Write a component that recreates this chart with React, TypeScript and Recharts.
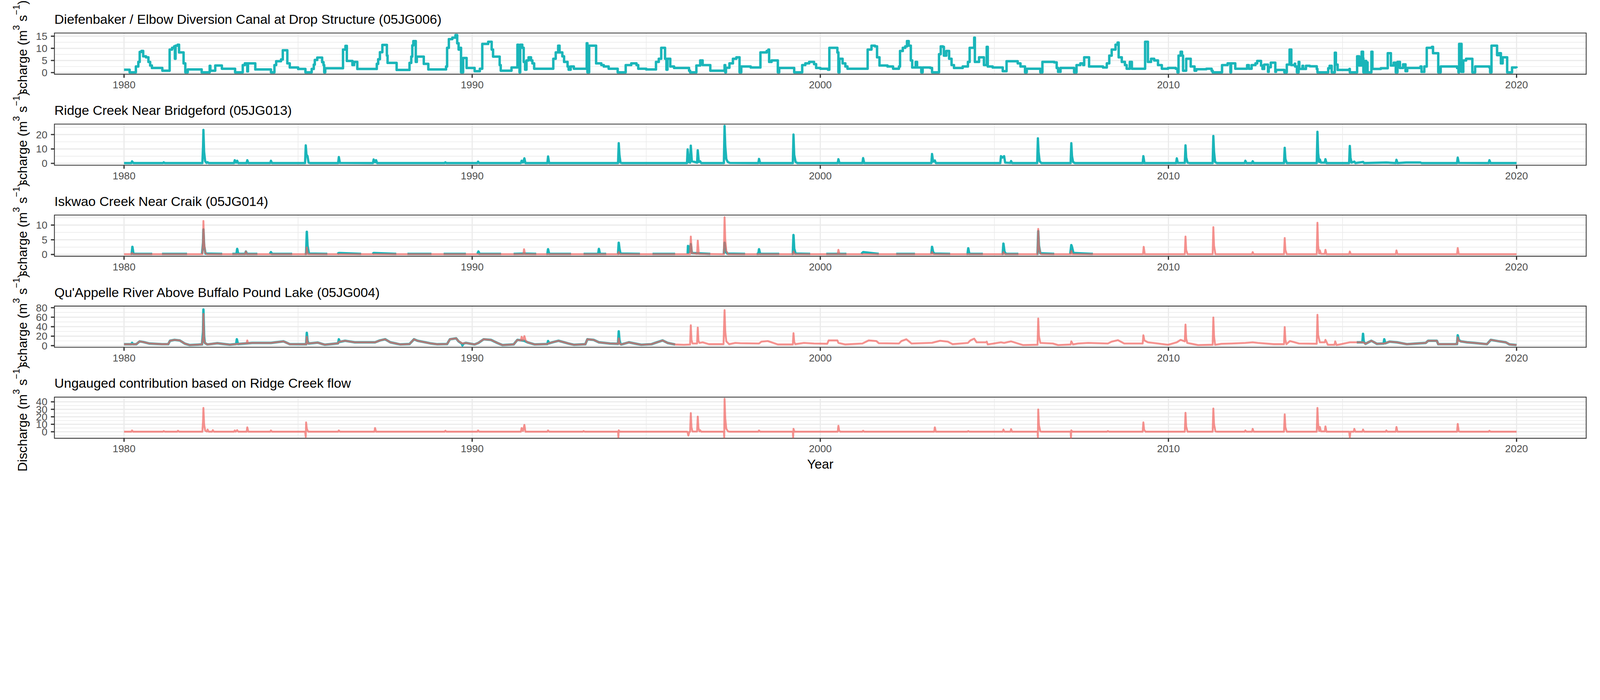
import React from "react";
import { LineChart, Line, XAxis, YAxis, CartesianGrid, ReferenceArea } from "recharts";

type Pt = [number, number | null];

// ---------- axis / label data ----------
const YEAR_TICKS = [1980, 1990, 2000, 2010, 2020];
const YEAR_MINOR = [1985, 1995, 2005, 2015];
const X_DOMAIN: [number, number] = [1978, 2022];

const TITLES = [
  "Diefenbaker / Elbow Diversion Canal at Drop Structure (05JG006)",
  "Ridge Creek Near Bridgeford (05JG013)",
  "Iskwao Creek Near Craik (05JG014)",
  "Qu'Appelle River Above Buffalo Pound Lake (05JG004)",
  "Ungauged contribution based on Ridge Creek flow",
];

const Y_TICKS = [
  [0, 5, 10, 15],
  [0, 10, 20],
  [0, 5, 10],
  [0, 20, 40, 60, 80],
  [0, 10, 20, 30, 40],
];
const Y_MINOR = [
  [2.5, 7.5, 12.5],
  [5, 15, 25],
  [2.5, 7.5, 12.5],
  [10, 30, 50, 70],
  [-5, 5, 15, 25, 35, 45],
];
const Y_DOMAINS: [number, number][] = [
  [-0.67, 16.3],
  [-1.3, 27.3],
  [-0.6, 13.4],
  [-3.4, 83.4],
  [-8.7, 46.3],
];

// ---------- series data (year, discharge) ----------
const DIEFENBAKER: Pt[] = [
  [1980.0, 1.2], [1980.16, 0.1], [1980.34, 2.5], [1980.41, 4.4], [1980.45, 8.5], [1980.5, 8.9], [1980.55, 6.7],
  [1980.63, 6.3], [1980.7, 4.4], [1980.75, 2.9], [1980.8, 1.9], [1981.1, 0.8], [1981.31, 9.5], [1981.38, 10.2],
  [1981.44, 10.8], [1981.46, 5.7], [1981.48, 11.1], [1981.54, 11.5], [1981.58, 8.3], [1981.71, 3.8], [1981.76, 0.1],
  [1981.83, 1.3], [1982.23, 0.1], [1982.46, 2.8], [1982.48, 0.8], [1982.62, 2.9], [1982.81, 1.6], [1983.19, 0.1],
  [1983.41, 3.1], [1983.47, 3.8], [1983.54, 0.5], [1983.56, 3.8], [1983.77, 1.3], [1984.22, 0.1], [1984.32, 3.1],
  [1984.37, 4.7], [1984.51, 5.4], [1984.56, 9.2], [1984.69, 3.8], [1984.76, 2.1], [1985.0, 1.5], [1985.21, 0.1],
  [1985.39, 1.5], [1985.45, 3.3], [1985.48, 5.2], [1985.55, 6.2], [1985.69, 4.3], [1985.73, 3.1], [1985.75, 0.1],
  [1985.78, 1.8], [1986.29, 9.5], [1986.36, 11.0], [1986.4, 4.8], [1986.56, 3.1], [1986.61, 4.4], [1986.7, 1.5],
  [1987.26, 3.6], [1987.3, 5.5], [1987.35, 8.4], [1987.42, 11.4], [1987.55, 7.0], [1987.57, 4.0], [1987.83, 1.1],
  [1988.2, 4.0], [1988.25, 6.6], [1988.28, 11.2], [1988.31, 13.0], [1988.38, 4.4], [1988.41, 6.6], [1988.61, 3.6],
  [1988.74, 1.3], [1989.25, 2.5], [1989.28, 10.2], [1989.33, 13.8],
  [1989.43, 14.4], [1989.52, 15.5], [1989.57, 12.1], [1989.61, 9.5], [1989.66, 10.2], [1989.68, 0.1], [1989.74, 6.0],
  [1989.84, 1.9], [1990.07, 0.6], [1990.22, 1.6], [1990.29, 11.8], [1990.46, 12.7], [1990.56, 9.5], [1990.6, 6.6],
  [1990.79, 3.1], [1990.82, 0.8], [1991.13, 2.1], [1991.3, 11.5], [1991.33, 6.3], [1991.36, 0.1], [1991.38, 11.5],
  [1991.44, 10.2], [1991.48, 4.4], [1991.52, 1.2], [1991.56, 5.0], [1991.62, 6.3], [1991.69, 5.0], [1991.73, 3.8],
  [1991.78, 1.6], [1992.33, 5.7], [1992.4, 8.3], [1992.47, 11.1], [1992.51, 8.3], [1992.59, 6.7], [1992.64, 4.4],
  [1992.74, 2.5], [1992.77, 1.2], [1992.83, 2.5], [1992.92, 1.6], [1993.29, 12.1], [1993.31, 0.1], [1993.36, 11.1],
  [1993.56, 3.8], [1993.71, 3.1], [1993.78, 2.5], [1993.92, 1.6], [1994.18, 0.1], [1994.41, 3.1], [1994.57, 3.8],
  [1994.72, 3.1], [1994.77, 1.6], [1995.0, 1.3], [1995.28, 4.4], [1995.36, 5.7], [1995.43, 10.2], [1995.54, 5.7],
  [1995.58, 1.2], [1995.61, 5.7], [1995.69, 2.5], [1995.8, 1.9], [1996.23, 0.8], [1996.26, 0.1], [1996.44, 2.9],
  [1996.55, 5.0], [1996.62, 3.1], [1996.84, 0.8], [1997.25, 3.1], [1997.27, 0.1], [1997.29, 2.0], [1997.39, 3.8],
  [1997.49, 5.7], [1997.59, 6.3], [1997.68, 0.1], [1997.73, 2.5], [1998.0, 2.1], [1998.28, 8.3], [1998.46, 8.9],
  [1998.51, 9.5], [1998.53, 4.4], [1998.6, 5.0], [1998.78, 0.1], [1998.82, 1.9], [1999.25, 0.1], [1999.48, 3.1],
  [1999.57, 3.8], [1999.68, 4.4], [1999.82, 3.5], [1999.88, 1.9], [2000.0, 1.6], [2000.22, 1.2], [2000.26, 10.2],
  [2000.49, 8.3], [2000.52, 0.1], [2000.55, 5.7], [2000.64, 3.8], [2000.72, 2.5], [2000.78, 1.6], [2001.36, 9.5],
  [2001.47, 11.1], [2001.57, 10.8], [2001.63, 6.3], [2001.7, 2.9], [2001.93, 2.5], [2002.09, 1.6], [2002.26, 2.5],
  [2002.29, 8.9], [2002.37, 10.2], [2002.44, 10.8], [2002.49, 13.0], [2002.54, 11.1], [2002.6, 5.0], [2002.64, 2.1],
  [2002.74, 4.4], [2002.78, 2.1], [2002.9, 0.1], [2002.94, 2.1], [2003.16, 1.9], [2003.21, 0.1], [2003.41, 7.6],
  [2003.46, 10.8], [2003.52, 10.6], [2003.55, 7.0], [2003.62, 8.9], [2003.7, 5.7], [2003.77, 3.1], [2003.84, 1.9],
  [2004.09, 2.5], [2004.24, 4.4], [2004.29, 10.2], [2004.42, 14.4], [2004.44, 4.4], [2004.56, 6.3], [2004.7, 3.1],
  [2004.78, 10.6], [2004.81, 2.5], [2004.95, 2.1], [2005.24, 0.6], [2005.35, 4.7], [2005.67, 3.8], [2005.75, 2.5],
  [2005.88, 0.1], [2005.93, 1.6], [2006.32, 0.1], [2006.38, 4.4], [2006.72, 4.2], [2006.79, 1.9], [2006.83, 0.3],
  [2006.9, 1.9], [2007.29, 0.1], [2007.36, 3.1], [2007.47, 3.8], [2007.55, 3.1], [2007.58, 6.3], [2007.72, 2.5],
  [2008.12, 2.1], [2008.23, 3.8], [2008.3, 7.0], [2008.37, 9.5], [2008.48, 11.5], [2008.54, 12.4], [2008.57, 6.3],
  [2008.66, 4.4], [2008.75, 3.1], [2008.8, 1.6], [2008.89, 4.4], [2008.95, 1.6], [2009.33, 12.7], [2009.41, 4.4],
  [2009.5, 5.7], [2009.59, 5.0], [2009.7, 3.1], [2009.81, 1.6], [2009.99, 1.9], [2010.21, 1.6], [2010.26, 0.1],
  [2010.29, 7.0], [2010.35, 8.6], [2010.39, 7.0], [2010.42, 0.8], [2010.51, 5.7], [2010.64, 2.5], [2010.75, 0.8],
  [2010.8, 1.4], [2011.09, 1.6], [2011.24, 0.8], [2011.27, 0.1], [2011.54, 3.1], [2011.7, 3.8], [2011.78, 0.1],
  [2011.8, 3.8], [2011.92, 1.6], [2012.26, 3.1], [2012.31, 1.6], [2012.39, 3.1], [2012.5, 3.8], [2012.55, 4.8],
  [2012.66, 2.9], [2012.7, 1.5], [2012.75, 3.3], [2012.86, 0.3], [2012.88, 2.2], [2012.94, 4.1], [2013.07, 0.3],
  [2013.09, 1.1], [2013.33, 0.1], [2013.4, 3.3], [2013.48, 9.5], [2013.53, 3.1], [2013.63, 3.7], [2013.64, 2.5],
  [2013.69, 0.1], [2013.74, 4.4], [2013.76, 1.5], [2013.85, 2.8], [2013.87, 1.5], [2013.95, 2.8], [2014.06, 2.6],
  [2014.26, 1.5], [2014.28, 0.1], [2014.59, 1.8], [2014.63, 2.8], [2014.69, 0.1], [2014.78, 8.2], [2014.81, 3.3],
  [2014.86, 1.1], [2015.2, 1.5], [2015.21, 0.1], [2015.42, 6.7], [2015.48, 2.9], [2015.55, 8.6], [2015.59, 5.9],
  [2015.6, 0.1], [2015.65, 4.8], [2015.68, 0.1], [2015.7, 4.2], [2015.72, 0.1], [2015.83, 8.6], [2015.86, 1.5],
  [2016.1, 1.8], [2016.3, 8.0], [2016.39, 2.9], [2016.47, 4.1], [2016.53, 0.1], [2016.58, 4.4],
  [2016.65, 1.9], [2016.74, 3.4], [2016.81, 0.6], [2016.86, 1.9], [2017.24, 2.5],
  [2017.27, 0.3], [2017.35, 2.5], [2017.42, 10.2], [2017.57, 10.6], [2017.6, 8.0], [2017.75, 0.1], [2017.82, 2.5],
  [2018.29, 1.9], [2018.33, 0.1], [2018.35, 11.8], [2018.42, 0.3], [2018.47, 5.0], [2018.55, 5.7], [2018.73, 0.1],
  [2018.81, 2.5], [2019.22, 2.1], [2019.24, 0.1], [2019.28, 11.1], [2019.44, 7.2], [2019.5, 8.0], [2019.55, 3.8],
  [2019.6, 6.3], [2019.73, 0.1], [2019.87, 2.1], [2020.0, 1.9],
];

const RIDGE: Pt[] = [
  [1980.0, 0.2], [1980.21, 0.2], [1980.23, 1.4], [1980.27, 0.2], [1981.12, 0.2], [1981.14, 0.7], [1981.17, 0.2],
  [1982.25, 0.2], [1982.27, 12], [1982.28, 23.2], [1982.3, 8], [1982.33, 1.5], [1982.37, 0.3], [1982.4, 0.8], [1982.43, 0.2],
  [1983.16, 0.2], [1983.18, 2.2], [1983.22, 0.5], [1983.25, 1.8], [1983.28, 0.2], [1983.52, 0.2], [1983.54, 2.2], [1983.57, 0.2],
  [1984.2, 0.2], [1984.22, 1.8], [1984.25, 0.2], [1985.2, 0.2], [1985.22, 12.5], [1985.24, 6], [1985.27, 5], [1985.3, 0.5],
  [1985.34, 0.2], [1986.15, 0.2], [1986.17, 4.4], [1986.2, 0.3], [1987.15, 0.2], [1987.17, 2.7], [1987.21, 0.8], [1987.24, 2.2],
  [1987.27, 0.2], [1989.21, 0.2], [1989.23, 0.7], [1989.26, 0.2], [1990.15, 0.2], [1990.17, 1.2], [1990.2, 0.2],
  [1991.4, 0.2], [1991.42, 1.8], [1991.46, 0.6], [1991.5, 3.5], [1991.53, 0.2], [1992.16, 0.2], [1992.18, 4.8], [1992.21, 0.2],
  [1994.19, 0.2], [1994.21, 14], [1994.23, 6], [1994.26, 0.5], [1994.3, 0.2], [1996.17, 0.2], [1996.19, 9.7], [1996.22, 1.0],
  [1996.26, 0.5], [1996.28, 12.3], [1996.31, 1.5], [1996.46, 0.5], [1996.48, 9.1], [1996.51, 1.0], [1996.55, 1.4], [1996.58, 0.2],
  [1997.23, 0.2], [1997.25, 26.0], [1997.27, 12], [1997.3, 3], [1997.34, 1.0], [1997.4, 0.3], [1998.22, 0.2], [1998.24, 3.1],
  [1998.27, 0.2], [1999.21, 0.2], [1999.23, 20], [1999.25, 6], [1999.29, 1], [1999.34, 0.2], [2000.5, 0.2], [2000.52, 2.9],
  [2000.55, 0.2], [2001.21, 0.2], [2001.23, 3.7], [2001.26, 0.2], [2003.19, 0.2], [2003.21, 6.5], [2003.24, 1.2], [2003.29, 2.0],
  [2003.32, 0.2], [2005.17, 0.2], [2005.19, 5], [2005.23, 4], [2005.28, 5], [2005.31, 0.5], [2005.46, 0.3], [2005.48, 1.6],
  [2005.51, 0.2], [2006.23, 0.2], [2006.25, 17.4], [2006.27, 8], [2006.3, 1.5], [2006.35, 0.2], [2007.19, 0.2], [2007.21, 14],
  [2007.23, 5], [2007.26, 1], [2007.31, 0.2], [2009.26, 0.2], [2009.28, 5], [2009.31, 0.2], [2010.22, 0.2], [2010.24, 3.5],
  [2010.27, 0.3], [2010.47, 0.3], [2010.49, 12.5], [2010.51, 4], [2010.55, 0.5], [2010.6, 0.2], [2011.27, 0.2], [2011.29, 19],
  [2011.31, 8], [2011.34, 1], [2011.39, 0.2], [2012.19, 0.2], [2012.21, 1.8], [2012.24, 0.2], [2012.4, 0.2], [2012.42, 1.5],
  [2012.45, 0.2], [2013.32, 0.2], [2013.34, 10.8], [2013.36, 3], [2013.4, 0.2], [2014.26, 0.2], [2014.28, 21.9], [2014.3, 7],
  [2014.33, 1.0], [2014.35, 2.7], [2014.38, 0.5], [2014.49, 0.5], [2014.51, 2.9], [2014.54, 0.2], [2015.19, 0.2], [2015.21, 12.1],
  [2015.23, 4], [2015.26, 0.5], [2015.34, 1.2], [2015.37, 0.2], [2015.59, 1.0], [2015.62, 0.2], [2016.26, 0.6], [2016.53, 0.2],
  [2016.55, 2.5], [2016.58, 0.2], [2016.83, 0.6], [2017.24, 0.6], [2017.27, 0.2], [2018.29, 0.2], [2018.31, 4], [2018.34, 0.3],
  [2019.2, 0.2], [2019.22, 2.2], [2019.25, 0.2], [2020.0, 0.2],
];

const ISKWAO_OBSERVED: Pt[] = [
  [1980.19, 0.2], [1980.22, 0.2], [1980.24, 2.6], [1980.27, 0.2], [1980.81, 0.2], [1980.82, null],
  [1981.09, 0.2], [1981.81, 0.2], [1981.82, null],
  [1982.24, 0.2], [1982.27, 4], [1982.28, 8.5], [1982.3, 3], [1982.34, 0.3], [1982.82, 0.2], [1982.83, null],
  [1983.11, 0.2], [1983.23, 0.2], [1983.25, 1.9], [1983.28, 0.2], [1983.48, 0.2], [1983.5, 1.0], [1983.53, 0.2], [1983.83, 0.2], [1983.84, null],
  [1984.19, 0.2], [1984.22, 0.8], [1984.25, 0.2], [1984.83, 0.2], [1984.84, null],
  [1985.19, 0.2], [1985.23, 0.2], [1985.25, 7.7], [1985.27, 3], [1985.31, 0.3], [1985.84, 0.2], [1985.85, null],
  [1986.13, 0.2], [1986.17, 0.5], [1986.81, 0.2], [1986.82, null],
  [1987.14, 0.2], [1987.17, 0.5], [1987.82, 0.2], [1987.83, null],
  [1988.14, 0.2], [1988.83, 0.2], [1988.84, null],
  [1989.18, 0.2], [1989.82, 0.2], [1989.83, null],
  [1990.15, 0.2], [1990.18, 1.0], [1990.21, 0.2], [1990.83, 0.2], [1990.84, null],
  [1991.19, 0.2], [1991.49, 0.3], [1991.84, 0.2], [1991.85, null],
  [1992.13, 0.2], [1992.16, 0.2], [1992.18, 1.8], [1992.21, 0.2], [1992.84, 0.2], [1992.85, null],
  [1993.2, 0.2], [1993.62, 0.2], [1993.64, 1.9], [1993.67, 0.2], [1993.85, 0.2], [1993.86, null],
  [1994.18, 0.2], [1994.19, 0.2], [1994.21, 4.0], [1994.23, 2], [1994.26, 0.3], [1994.82, 0.2], [1994.83, null],
  [1995.18, 0.2], [1995.83, 0.2], [1995.84, null],
  [1996.19, 0.2], [1996.2, 2.9], [1996.23, 0.8], [1996.28, 3.5], [1996.31, 0.5], [1996.84, 0.2], [1996.85, null],
  [1997.23, 0.2], [1997.25, 4.0], [1997.28, 1.0], [1997.33, 0.3], [1997.84, 0.2], [1997.85, null],
  [1998.17, 0.2], [1998.22, 0.2], [1998.24, 1.8], [1998.27, 0.2], [1998.82, 0.2], [1998.83, null],
  [1999.18, 0.2], [1999.21, 0.2], [1999.23, 6.6], [1999.25, 2], [1999.29, 0.3], [1999.71, 0.2], [1999.72, null],
  [2000.17, 0.2], [2000.75, 0.2], [2000.76, null],
  [2001.18, 0.2], [2001.23, 0.8], [2001.68, 0.2], [2001.69, null],
  [2002.18, 0.2], [2002.72, 0.2], [2002.73, null],
  [2003.19, 0.2], [2003.21, 2.6], [2003.24, 0.8], [2003.28, 0.3], [2003.73, 0.2], [2003.74, null],
  [2004.2, 0.2], [2004.23, 0.2], [2004.25, 2.1], [2004.28, 0.2], [2004.67, 0.2], [2004.68, null],
  [2005.21, 0.2], [2005.24, 0.2], [2005.26, 3.7], [2005.29, 1.0], [2005.33, 0.2], [2005.69, 0.2], [2005.7, null],
  [2006.21, 0.2], [2006.24, 0.2], [2006.26, 7.9], [2006.28, 3], [2006.32, 0.4], [2006.72, 0.2], [2006.73, null],
  [2007.18, 0.2], [2007.21, 3.2], [2007.23, 2.5], [2007.27, 0.5], [2007.83, 0.2],
];

const ISKWAO_ESTIMATED: Pt[] = [
  [1980.0, 0.1], [1980.21, 0.1], [1980.23, 0.5], [1980.26, 0.1], [1982.25, 0.1], [1982.27, 5], [1982.28, 11.4], [1982.3, 4],
  [1982.33, 0.6], [1982.38, 0.1], [1983.48, 0.1], [1983.5, 1.0], [1983.53, 0.1], [1985.23, 0.1], [1985.25, 2.4], [1985.28, 0.1],
  [1991.47, 0.1], [1991.49, 1.8], [1991.52, 0.1], [1994.19, 0.1], [1994.21, 0.8], [1994.24, 0.1], [1996.26, 0.1], [1996.28, 6.1],
  [1996.31, 0.5], [1996.46, 0.2], [1996.48, 4.7], [1996.51, 0.2], [1997.23, 0.1], [1997.25, 12.7], [1997.27, 5], [1997.3, 1.2],
  [1997.35, 0.1], [1999.21, 0.1], [1999.23, 1.0], [1999.26, 0.1], [2000.5, 0.1], [2000.52, 1.6], [2000.55, 0.1], [2003.19, 0.1],
  [2003.21, 0.8], [2003.24, 0.1], [2005.24, 0.1], [2005.26, 0.8], [2005.29, 0.1], [2006.24, 0.1], [2006.26, 8.7], [2006.28, 3],
  [2006.32, 0.3], [2006.36, 0.1], [2007.19, 0.1], [2007.21, 1.2], [2007.24, 0.1], [2009.27, 0.1], [2009.29, 2.6], [2009.32, 0.1],
  [2010.47, 0.1], [2010.49, 6.1], [2010.51, 1.5], [2010.55, 0.1], [2011.27, 0.1], [2011.29, 9.3], [2011.31, 3], [2011.35, 0.1],
  [2012.4, 0.1], [2012.42, 0.8], [2012.45, 0.1], [2013.32, 0.1], [2013.34, 5.6], [2013.36, 1.5], [2013.4, 0.1], [2014.26, 0.1],
  [2014.28, 10.8], [2014.3, 3], [2014.33, 0.3], [2014.35, 1.4], [2014.38, 0.2], [2014.49, 0.2], [2014.51, 1.6], [2014.54, 0.1],
  [2015.19, 0.1], [2015.21, 1.0], [2015.24, 0.1], [2016.53, 0.1], [2016.55, 1.4], [2016.58, 0.1], [2018.29, 0.1], [2018.31, 2.2],
  [2018.34, 0.1], [2020.0, 0.1],
];

const QUAPPELLE_OBSERVED: Pt[] = [
  [1980.0, 3.0], [1980.21, 3.0], [1980.23, 5.8], [1980.26, 3.0], [1980.35, 3.0], [1980.45, 9.0], [1980.55, 7.7], [1980.73, 4.5],
  [1981.09, 3.2], [1981.27, 3.2], [1981.32, 10.3], [1981.45, 12.2], [1981.6, 11.0], [1981.74, 4.5], [1981.88, 1.3], [1982.24, 2.6],
  [1982.27, 30], [1982.28, 76], [1982.3, 20], [1982.32, 5.8], [1982.39, 2.6], [1982.55, 4.0], [1982.68, 5.2], [1983.04, 2.0],
  [1983.22, 3.5], [1983.24, 13.5], [1983.27, 3.5], [1983.54, 5.0], [1983.68, 5.8], [1984.22, 5.8], [1984.58, 9.0], [1984.76, 3.2],
  [1985.23, 3.0], [1985.25, 27], [1985.27, 10], [1985.3, 4.5], [1985.56, 6.4], [1985.77, 2.0], [1986.15, 5.0], [1986.17, 13.5],
  [1986.2, 8], [1986.35, 10.3], [1986.63, 7.0], [1987.21, 7.0], [1987.35, 11.0], [1987.5, 13.5], [1987.65, 7.0], [1987.94, 2.6],
  [1988.2, 3.5], [1988.33, 13.5], [1988.43, 10.3], [1988.79, 5.0], [1989.0, 3.0], [1989.28, 3.5], [1989.36, 13.5], [1989.54, 15.5],
  [1989.61, 9.0], [1989.7, 4.5], [1989.72, 0.5], [1989.75, 4.5], [1989.82, 5.8], [1990.07, 2.6], [1990.18, 5.8], [1990.33, 13.5],
  [1990.54, 12.2], [1990.72, 5.8], [1990.87, 1.3], [1991.19, 2.6], [1991.3, 12.2], [1991.42, 11], [1991.5, 10], [1991.59, 7.0],
  [1991.8, 2.6], [1992.16, 3.5], [1992.18, 9.7], [1992.21, 5], [1992.34, 7.7], [1992.48, 10.3], [1992.77, 4.5], [1992.92, 1.9],
  [1993.25, 3.0], [1993.31, 13.5], [1993.49, 12.2], [1993.64, 7.0], [1993.96, 4.5], [1994.19, 4.0], [1994.21, 30], [1994.23, 12],
  [1994.26, 4.0], [1994.28, 2.6], [1994.5, 7.0], [1994.86, 1.9], [1995.15, 3.2], [1995.47, 11.0], [1995.61, 5.8], [1995.83, 2.6],
  [1995.84, null],
  [2015.41, 7.0], [2015.57, 7.0], [2015.59, 25], [2015.61, 8], [2015.66, 3.9], [2015.83, 10.3], [2015.99, 3.9], [2016.18, 4.5],
  [2016.2, 13.5], [2016.23, 5], [2016.35, 8.4], [2016.56, 7.0], [2016.85, 3.2], [2017.13, 4.5], [2017.39, 5.8], [2017.46, 10.3],
  [2017.71, 10.3], [2017.75, 3.2], [2018.22, 3.2], [2018.29, 3.5], [2018.31, 21.9], [2018.34, 12], [2018.4, 9.0], [2018.58, 7.0],
  [2018.79, 5.8], [2019.15, 3.2], [2019.26, 12.2], [2019.51, 9.0], [2019.69, 7.0], [2019.8, 2.6], [2020.0, 1.3],
];

const QUAPPELLE_ESTIMATED: Pt[] = [
  [1980.0, 3.0], [1980.35, 3.0], [1980.45, 9.0], [1980.55, 7.7], [1980.73, 4.5], [1981.09, 3.2], [1981.27, 3.2], [1981.32, 10.3],
  [1981.45, 12.2], [1981.6, 11.0], [1981.74, 4.5], [1981.88, 1.3], [1982.24, 2.6], [1982.27, 20], [1982.28, 67], [1982.3, 15],
  [1982.32, 5.8], [1982.39, 2.6], [1982.55, 4.0], [1982.68, 5.2], [1983.04, 2.0], [1983.24, 3.5], [1983.52, 5.0], [1983.54, 11.0],
  [1983.56, 5.0], [1983.68, 5.8], [1984.22, 5.8], [1984.58, 9.0], [1984.76, 3.2], [1985.23, 3.0], [1985.25, 18.7], [1985.28, 4.5],
  [1985.56, 6.4], [1985.77, 2.0], [1986.15, 5.0], [1986.17, 8.0], [1986.35, 10.3], [1986.63, 7.0], [1987.21, 7.0], [1987.35, 11.0],
  [1987.5, 13.5], [1987.65, 7.0], [1987.94, 2.6], [1988.2, 3.5], [1988.33, 13.5], [1988.43, 10.3], [1988.79, 5.0], [1989.0, 3.0],
  [1989.28, 3.5], [1989.36, 13.5], [1989.54, 15.5], [1989.61, 9.0], [1989.72, 4.5], [1989.82, 5.8], [1990.07, 2.6], [1990.18, 5.8],
  [1990.33, 13.5], [1990.54, 12.2], [1990.72, 5.8], [1990.87, 1.3], [1991.19, 2.6], [1991.3, 12.2], [1991.4, 11], [1991.42, 18.7],
  [1991.46, 11], [1991.5, 20], [1991.54, 10], [1991.59, 7.0], [1991.8, 2.6], [1992.16, 3.5], [1992.18, 4.5], [1992.34, 7.7],
  [1992.48, 10.3], [1992.77, 4.5], [1992.92, 1.9], [1993.25, 3.0], [1993.31, 13.5], [1993.49, 12.2], [1993.64, 7.0], [1993.96, 4.5],
  [1994.19, 4.0], [1994.21, 15.5], [1994.24, 4.0], [1994.28, 2.6], [1994.5, 7.0], [1994.86, 1.9], [1995.15, 3.2], [1995.47, 11.0],
  [1995.61, 5.8], [1995.83, 2.6], [1996.08, 1.9], [1996.26, 2.5], [1996.28, 43], [1996.3, 12], [1996.33, 4.5], [1996.46, 4.5],
  [1996.48, 38], [1996.5, 10], [1996.53, 5.8], [1996.62, 7.0], [1996.8, 3.2], [1997.22, 3.2], [1997.25, 75], [1997.27, 30],
  [1997.3, 9.0], [1997.38, 3.2], [1997.56, 5.8], [1997.7, 5.2], [1998.24, 4.5], [1998.31, 8.4], [1998.49, 9.7], [1998.78, 2.6],
  [1999.21, 2.6], [1999.23, 26.4], [1999.25, 8], [1999.28, 3.2], [1999.53, 5.8], [1999.82, 4.5], [2000.2, 4.0], [2000.24, 11.0],
  [2000.49, 11.0], [2000.52, 5.8], [2000.71, 2.6], [2001.21, 4.5], [2001.39, 11.0], [2001.61, 9.7], [2001.68, 5.2], [2002.26, 4.5],
  [2002.33, 9.7], [2002.47, 13.5], [2002.62, 4.5], [2003.21, 6.0], [2003.44, 10.3], [2003.66, 8.4], [2003.8, 3.2], [2004.24, 5.8],
  [2004.31, 11.0], [2004.42, 14.8], [2004.49, 7.0], [2004.76, 7.0], [2004.78, 8.4], [2004.81, 2.6], [2005.19, 7.0], [2005.28, 5.8],
  [2005.48, 9.0], [2005.82, 1.3], [2006.24, 2.0], [2006.26, 57.3], [2006.28, 20], [2006.32, 5.8], [2006.68, 4.5], [2006.83, 1.3],
  [2007.19, 2.5], [2007.21, 9.0], [2007.26, 2.6], [2007.4, 4.5], [2007.69, 5.8], [2008.26, 4.5], [2008.37, 8.4], [2008.55, 11.6],
  [2008.73, 4.5], [2009.26, 4.5], [2009.28, 21.9], [2009.31, 11.0], [2009.41, 7.0], [2009.7, 4.5], [2009.99, 1.9], [2010.24, 7.0],
  [2010.35, 12.2], [2010.47, 9.0], [2010.49, 44.4], [2010.51, 15], [2010.54, 5.8], [2010.85, 1.3], [2011.27, 2.0], [2011.29, 59.2],
  [2011.31, 20], [2011.34, 1.9], [2011.52, 3.9], [2011.81, 4.5], [2012.21, 5.8], [2012.42, 7.0], [2012.57, 5.8], [2013.03, 3.2],
  [2013.32, 3.2], [2013.34, 39], [2013.36, 12], [2013.39, 3.2], [2013.49, 9.7], [2013.75, 4.5], [2014.26, 4.0], [2014.28, 65],
  [2014.3, 22], [2014.35, 7.0], [2014.49, 7.0], [2014.51, 12.2], [2014.58, 1.9], [2014.77, 2.0], [2014.79, 9.0], [2014.83, 1.3],
  [2015.21, 7.0], [2015.59, 7.0], [2015.66, 3.9], [2015.83, 10.3], [2015.99, 3.9], [2016.2, 4.5], [2016.35, 8.4], [2016.56, 7.0],
  [2016.85, 3.2], [2017.13, 4.5], [2017.39, 5.8], [2017.46, 10.3], [2017.71, 10.3], [2017.75, 3.2], [2018.22, 3.2], [2018.29, 3.5],
  [2018.31, 17.4], [2018.34, 10], [2018.4, 9.0], [2018.58, 7.0], [2018.79, 5.8], [2019.15, 3.2], [2019.26, 12.2], [2019.51, 9.0],
  [2019.69, 7.0], [2019.8, 2.6], [2020.0, 1.3],
];

const UNGAUGED: Pt[] = [
  [1980.0, 0.1], [1980.21, 0.1], [1980.23, 1.8], [1980.26, 0.1], [1981.12, 0.1], [1981.14, 1.0], [1981.17, 0.1], [1981.53, 0.1],
  [1981.55, 1.4], [1981.58, 0.1], [1982.25, 0.1], [1982.27, 15], [1982.28, 31.9], [1982.3, 10], [1982.33, 1.5], [1982.38, 0.3],
  [1982.4, 3.0], [1982.43, 0.1], [1982.53, 0.1], [1982.55, 2.2], [1982.58, 0.1], [1983.16, 0.1], [1983.18, 1.8], [1983.21, 0.2],
  [1983.25, 2.2], [1983.28, 0.1], [1983.52, 0.1], [1983.54, 5.9], [1983.57, 0.1], [1984.2, 0.1], [1984.22, 1.8], [1984.25, 0.1],
  [1985.2, 0.1], [1985.22, -6.8], [1985.23, 12.5], [1985.25, 4], [1985.29, 0.1], [1986.15, 0.1], [1986.17, 1.8], [1986.2, 0.1],
  [1987.19, 0.1], [1987.21, 5.0], [1987.24, 0.1], [1989.21, 0.1], [1989.23, 1.4], [1989.26, 0.1], [1990.15, 0.1], [1990.17, 1.8],
  [1990.2, 0.1], [1991.4, 0.1], [1991.42, 5.0], [1991.46, 1.0], [1991.5, 9.2], [1991.53, 0.1], [1992.16, 0.1], [1992.18, 1.8],
  [1992.21, 0.1], [1993.18, 0.1], [1993.2, 1.0], [1993.23, 0.1], [1994.19, 0.1], [1994.2, -7.3], [1994.21, 2.0], [1994.24, 0.1],
  [1996.18, 0.1], [1996.21, -5.0], [1996.24, 0.1], [1996.26, 0.1], [1996.28, 24.9], [1996.3, 6], [1996.33, 0.3], [1996.46, 0.3],
  [1996.48, 20.3], [1996.5, 5], [1996.53, 0.5], [1996.55, 2.0], [1996.58, 0.1], [1997.23, 0.1], [1997.24, -7.3], [1997.25, 44.2],
  [1997.27, 18], [1997.3, 4], [1997.35, 0.5], [1997.4, 0.1], [1998.22, 0.1], [1998.24, 1.8], [1998.27, 0.1], [1999.21, 0.1],
  [1999.22, -7.3], [1999.23, 3.9], [1999.26, 0.1], [2000.5, 0.1], [2000.52, 8.0], [2000.54, 2], [2000.57, 0.1], [2001.21, 0.1],
  [2001.23, 1.4], [2001.26, 0.1], [2003.27, 0.1], [2003.29, 5.9], [2003.32, 0.1], [2004.23, 0.1], [2004.25, 1.0], [2004.28, 0.1],
  [2005.24, 0.1], [2005.26, 3.0], [2005.29, 0.1], [2005.46, 0.1], [2005.48, 3.5], [2005.51, 0.1], [2006.24, 0.1], [2006.25, -7.3],
  [2006.26, 29.8], [2006.28, 9], [2006.32, 0.5], [2006.36, 0.1], [2007.19, 0.1], [2007.2, -8.0], [2007.21, 2.0], [2007.24, 0.1],
  [2008.24, 0.1], [2008.26, 1.0], [2008.29, 0.1], [2009.26, 0.1], [2009.28, 12.5], [2009.3, 3], [2009.34, 0.1], [2010.47, 0.1],
  [2010.49, 25.3], [2010.51, 7], [2010.55, 0.1], [2011.27, 0.1], [2011.29, 31.1], [2011.31, 10], [2011.35, 0.5], [2011.4, 0.1],
  [2012.19, 0.1], [2012.21, 1.8], [2012.24, 0.1], [2012.4, 0.1], [2012.42, 3.9], [2012.45, 0.1], [2013.32, 0.1], [2013.34, 23.2],
  [2013.36, 6], [2013.4, 0.1], [2014.26, 0.1], [2014.28, 31.9], [2014.3, 10], [2014.33, 1.0], [2014.35, 6.4], [2014.38, 0.5],
  [2014.49, 0.5], [2014.51, 7.2], [2014.54, 0.1], [2015.19, 0.1], [2015.21, -7.3], [2015.23, 0.1], [2015.32, 0.1], [2015.34, 3.9],
  [2015.37, 0.1], [2015.57, 0.1], [2015.59, 3.0], [2015.62, 0.1], [2016.24, 0.1], [2016.26, 1.8], [2016.29, 0.1], [2016.53, 0.1],
  [2016.55, 6.4], [2016.58, 0.1], [2018.29, 0.1], [2018.31, 10.5], [2018.34, 0.5], [2018.38, 0.1], [2019.2, 0.1], [2019.22, 1.4],
  [2019.25, 0.1], [2020.0, 0.1],
];

// ---------- styling ----------
const TEAL = "#1AB5B9";
const RED = "#F1635E";
const FONT = "'Liberation Sans', Arial, Helvetica, sans-serif";

type Series = { pts: Pt[]; color: string; opacity: number; width: number; step: boolean };

const PANEL_SERIES: Series[][] = [
  [{ pts: DIEFENBAKER, color: TEAL, opacity: 1, width: 9, step: true }],
  [{ pts: RIDGE, color: TEAL, opacity: 1, width: 8.5, step: false }],
  [
    { pts: ISKWAO_OBSERVED, color: TEAL, opacity: 1, width: 9, step: false },
    { pts: ISKWAO_ESTIMATED, color: RED, opacity: 0.7, width: 7, step: false },
  ],
  [
    { pts: QUAPPELLE_OBSERVED, color: TEAL, opacity: 1, width: 9, step: false },
    { pts: QUAPPELLE_ESTIMATED, color: RED, opacity: 0.7, width: 7, step: false },
  ],
  [{ pts: UNGAUGED, color: RED, opacity: 0.7, width: 7, step: false }],
];

const toRows = (pts: Pt[]) => pts.map(([t, v]) => ({ t, v }));

const PAGE_W = 5910;
const PAGE_H = 1791;
const PLOT_LEFT = 201;
const PLOT_RIGHT = 5859;
const PLOT_H = 152;
const PLOT_TOP0 = 122;
const STRIDE = 336;
const CHART_TOP_MARGIN = 10;
const X_AXIS_H = 60;

function YLabel({ cy }: { cy: number }) {
  const sup: React.CSSProperties = { fontSize: "70%", position: "relative", top: "-0.8em", lineHeight: 0 };
  return (
    <div
      style={{
        position: "absolute",
        left: 83.4,
        top: cy,
        transform: "translate(-50%, -50%) rotate(-90deg)",
        whiteSpace: "nowrap",
        fontSize: 48,
        lineHeight: "48px",
        color: "#000",
        fontFamily: FONT,
      }}
    >
      Discharge (m<span style={sup}>3</span> s<span style={sup}>−1</span>)
    </div>
  );
}

function Panel({ k }: { k: number }) {
  const plotTop = PLOT_TOP0 + STRIDE * k;
  const bgTop = k === 0 ? 0 : plotTop - 114;
  const bgBottom = k === 4 ? PAGE_H : plotTop + STRIDE - 114;
  const dom = Y_DOMAINS[k];
  const tickStyle = { fill: "#4D4D4D", fontSize: 38, fontFamily: FONT };
  const tickLine = { stroke: "#333333", strokeWidth: 4.5 };
  return (
    <div
      style={{
        position: "absolute",
        left: 0,
        top: bgTop,
        width: PAGE_W,
        height: bgBottom - bgTop,
        background: "#ffffff",
        zIndex: k + 1,
      }}
    >
      <div
        style={{
          position: "absolute",
          left: PLOT_LEFT,
          top: plotTop - 75.5 - bgTop,
          fontSize: 49,
          lineHeight: "49px",
          whiteSpace: "nowrap",
          color: "#000",
          fontFamily: FONT,
        }}
      >
        {TITLES[k]}
      </div>
      <div style={{ position: "absolute", left: 0, top: plotTop - CHART_TOP_MARGIN - bgTop }}>
        <LineChart
          width={PAGE_W}
          height={CHART_TOP_MARGIN + PLOT_H + X_AXIS_H}
          margin={{ top: CHART_TOP_MARGIN, right: PAGE_W - PLOT_RIGHT, bottom: 0, left: 0 }}
          style={{ fontFamily: FONT }}
        >
          <CartesianGrid
            horizontalValues={Y_MINOR[k]}
            verticalValues={YEAR_MINOR}
            stroke="#EBEBEB"
            strokeWidth={2.4}
          />
          <CartesianGrid
            horizontalValues={Y_TICKS[k]}
            verticalValues={YEAR_TICKS}
            stroke="#EBEBEB"
            strokeWidth={4.4}
          />
          <XAxis
            type="number"
            dataKey="t"
            domain={X_DOMAIN}
            ticks={YEAR_TICKS}
            interval={0}
            allowDataOverflow
            height={X_AXIS_H}
            tickSize={13}
            tickMargin={12}
            axisLine={false}
            tickLine={tickLine}
            tick={tickStyle}
          />
          <YAxis
            type="number"
            domain={dom}
            ticks={Y_TICKS[k]}
            interval={0}
            allowDataOverflow
            width={PLOT_LEFT}
            tickSize={13}
            tickMargin={13}
            axisLine={false}
            tickLine={tickLine}
            tick={tickStyle}
          />
          {PANEL_SERIES[k].map((s, i) => (
            <Line
              key={i}
              data={toRows(s.pts)}
              dataKey="v"
              type={s.step ? "stepAfter" : "linear"}
              stroke={s.color}
              strokeOpacity={s.opacity}
              strokeWidth={s.width}
              strokeLinejoin="round"
              dot={false}
              activeDot={false}
              connectNulls={false}
              isAnimationActive={false}
            />
          ))}
          <ReferenceArea
            x1={X_DOMAIN[0]}
            x2={X_DOMAIN[1]}
            y1={dom[0]}
            y2={dom[1]}
            fill="none"
            fillOpacity={0}
            stroke="#333333"
            strokeWidth={3}
            ifOverflow="visible"
          />
        </LineChart>
      </div>
      <YLabel cy={plotTop + PLOT_H / 2 + 1 - bgTop} />
    </div>
  );
}

function viewportScale(): number {
  if (typeof document === "undefined") return 1;
  const w = document.documentElement.clientWidth || window.innerWidth || PAGE_W;
  return Math.min(1, w / PAGE_W);
}

export default function App() {
  const s = viewportScale();
  return (
    <div
      style={{
        position: "absolute",
        left: 0,
        top: 0,
        width: PAGE_W,
        height: PAGE_H,
        background: "#ffffff",
        overflow: "hidden",
        fontFamily: FONT,
        transform: s < 1 ? `scale(${s})` : undefined,
        transformOrigin: "0 0",
      }}
    >
      {[0, 1, 2, 3, 4].map((k) => (
        <Panel key={k} k={k} />
      ))}
      <div
        style={{
          position: "absolute",
          left: (PLOT_LEFT + PLOT_RIGHT) / 2,
          top: 1690,
          transform: "translateX(-50%)",
          fontSize: 48,
          lineHeight: "48px",
          color: "#000",
          zIndex: 10,
          whiteSpace: "nowrap",
        }}
      >
        Year
      </div>
    </div>
  );
}
